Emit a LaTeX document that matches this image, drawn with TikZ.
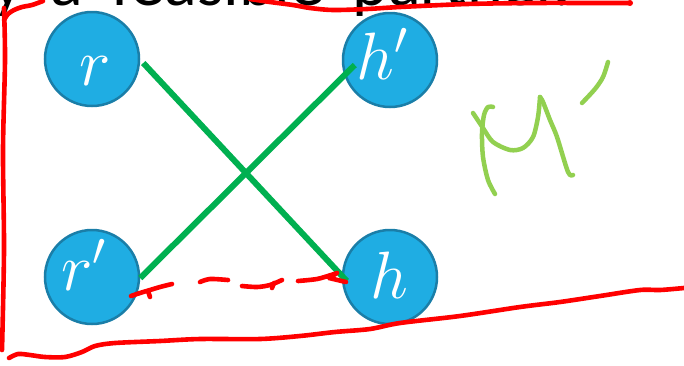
\RequirePackage{fix-cm}
\documentclass[tikz,border=0pt]{standalone}
\usepackage{fontspec}
\newfontfamily\carlito{Carlito}
\definecolor{nodefill}{HTML}{1FADE3}
\definecolor{nodeedge}{HTML}{1A7EA8}
\definecolor{edgegreen}{HTML}{00B050}
\definecolor{inkgreen}{HTML}{92D050}
\definecolor{inkred}{HTML}{FF0000}
\begin{document}
\begin{tikzpicture}[x=1pt,y=-1pt,
  vertex/.style={circle,fill=nodefill,draw=nodeedge,line width=2.5pt,minimum size=94pt,inner sep=0pt},
  lbl/.style={text=white,font=\fontsize{67}{67}\selectfont,inner sep=0pt,anchor=base},
  matchedge/.style={draw=edgegreen,line width=6pt},
  redink/.style={draw=inkred,line width=4.6pt,line cap=round,line join=round},
  greenink/.style={draw=inkgreen,line width=4.5pt,line cap=round,line join=round}]
\useasboundingbox (0,0) rectangle (684,365);
\clip (0,0) rectangle (684,365);
% heading (cut off at the top)
\node[anchor=base east,inner sep=0pt,font=\carlito\fontsize{68}{68}\selectfont] (title) at (571,5) {\spaceskip=28pt y a feasible partner.};
% vertices
\node[vertex] (r)  at (92,59) {};
\node[vertex] (rp) at (92,277) {};
\node[vertex] (hp) at (390,60) {};
\node[vertex] (h)  at (390,277) {};
\node[lbl] (rl)  at (95,85) {$r$};
\node[lbl] (rpl) at (84,290) {$r'$};
\node[lbl] (hpl) at (382,79) {$h'$};
\node[lbl] (hl)  at (389,298) {$h$};
% matching edges
\draw[matchedge] ([shift={(3,4)}]r.east) -- ([shift={(5,4)}]h.west);
\draw[matchedge] ([shift={(0,1)}]rp.east) -- ([shift={(13,5)}]hp.west);
% red dashed ink between r' and h
\draw[redink] plot[smooth] coordinates {(131,296) (140,293) (150,290) (160,287) (172,284)};
\draw[redink] (148,291) -- (150,297);
\draw[redink] plot[smooth] coordinates {(200,282) (210,279) (228,280)};
\draw[redink] plot[smooth] coordinates {(242,286) (257,287) (270,285) (282,280)};
\draw[redink] (274,283) -- (272,288);
\draw[redink] plot[smooth] coordinates {(298,281) (317,279) (331,275) (337,273)} -- (329,278) -- (346,282);
% red outline ink
\draw[redink] plot[smooth] coordinates {(4,8) (5,60) (3,150) (4,250) (2,350)};
\draw[redink] plot[smooth] coordinates {(4,20) (8,14) (14,10) (22,7) (32,5) (43,1)};
\draw[redink] plot[smooth] coordinates {(250,-1) (270,2) (293,5) (310,8) (333,10) (367,9) (400,7) (467,4) (533,3) (600,3) (630,3)};
\fill[inkred] (630,3) circle (3);
\draw[redink] plot[smooth] coordinates {(9,358) (18,354) (30,355) (45,357) (65,357) (82,352) (95,346) (115,343) (160,341) (200,339) (260,339) (300,336) (335,332) (370,329) (400,323) (460,316) (520,307) (560,302) (600,296) (640,290) (660,290) (684,288)};
% green handwritten M'
\draw[greenink] plot[smooth] coordinates {(493,107) (488,107) (484,115) (482,133) (483,157) (488,180) (495,194)};
\draw[greenink] plot[smooth] coordinates {(473,113) (483,128) (493,142) (510,150) (523,148) (533,137) (538,117) (540,97)};
\draw[greenink] plot[smooth] coordinates {(540,97) (543,102) (550,120) (557,137) (568,172) (573,175)};
\draw[greenink] plot[smooth] coordinates {(582,103) (595,89) (603,77) (608,62)};
\end{tikzpicture}
\end{document}
